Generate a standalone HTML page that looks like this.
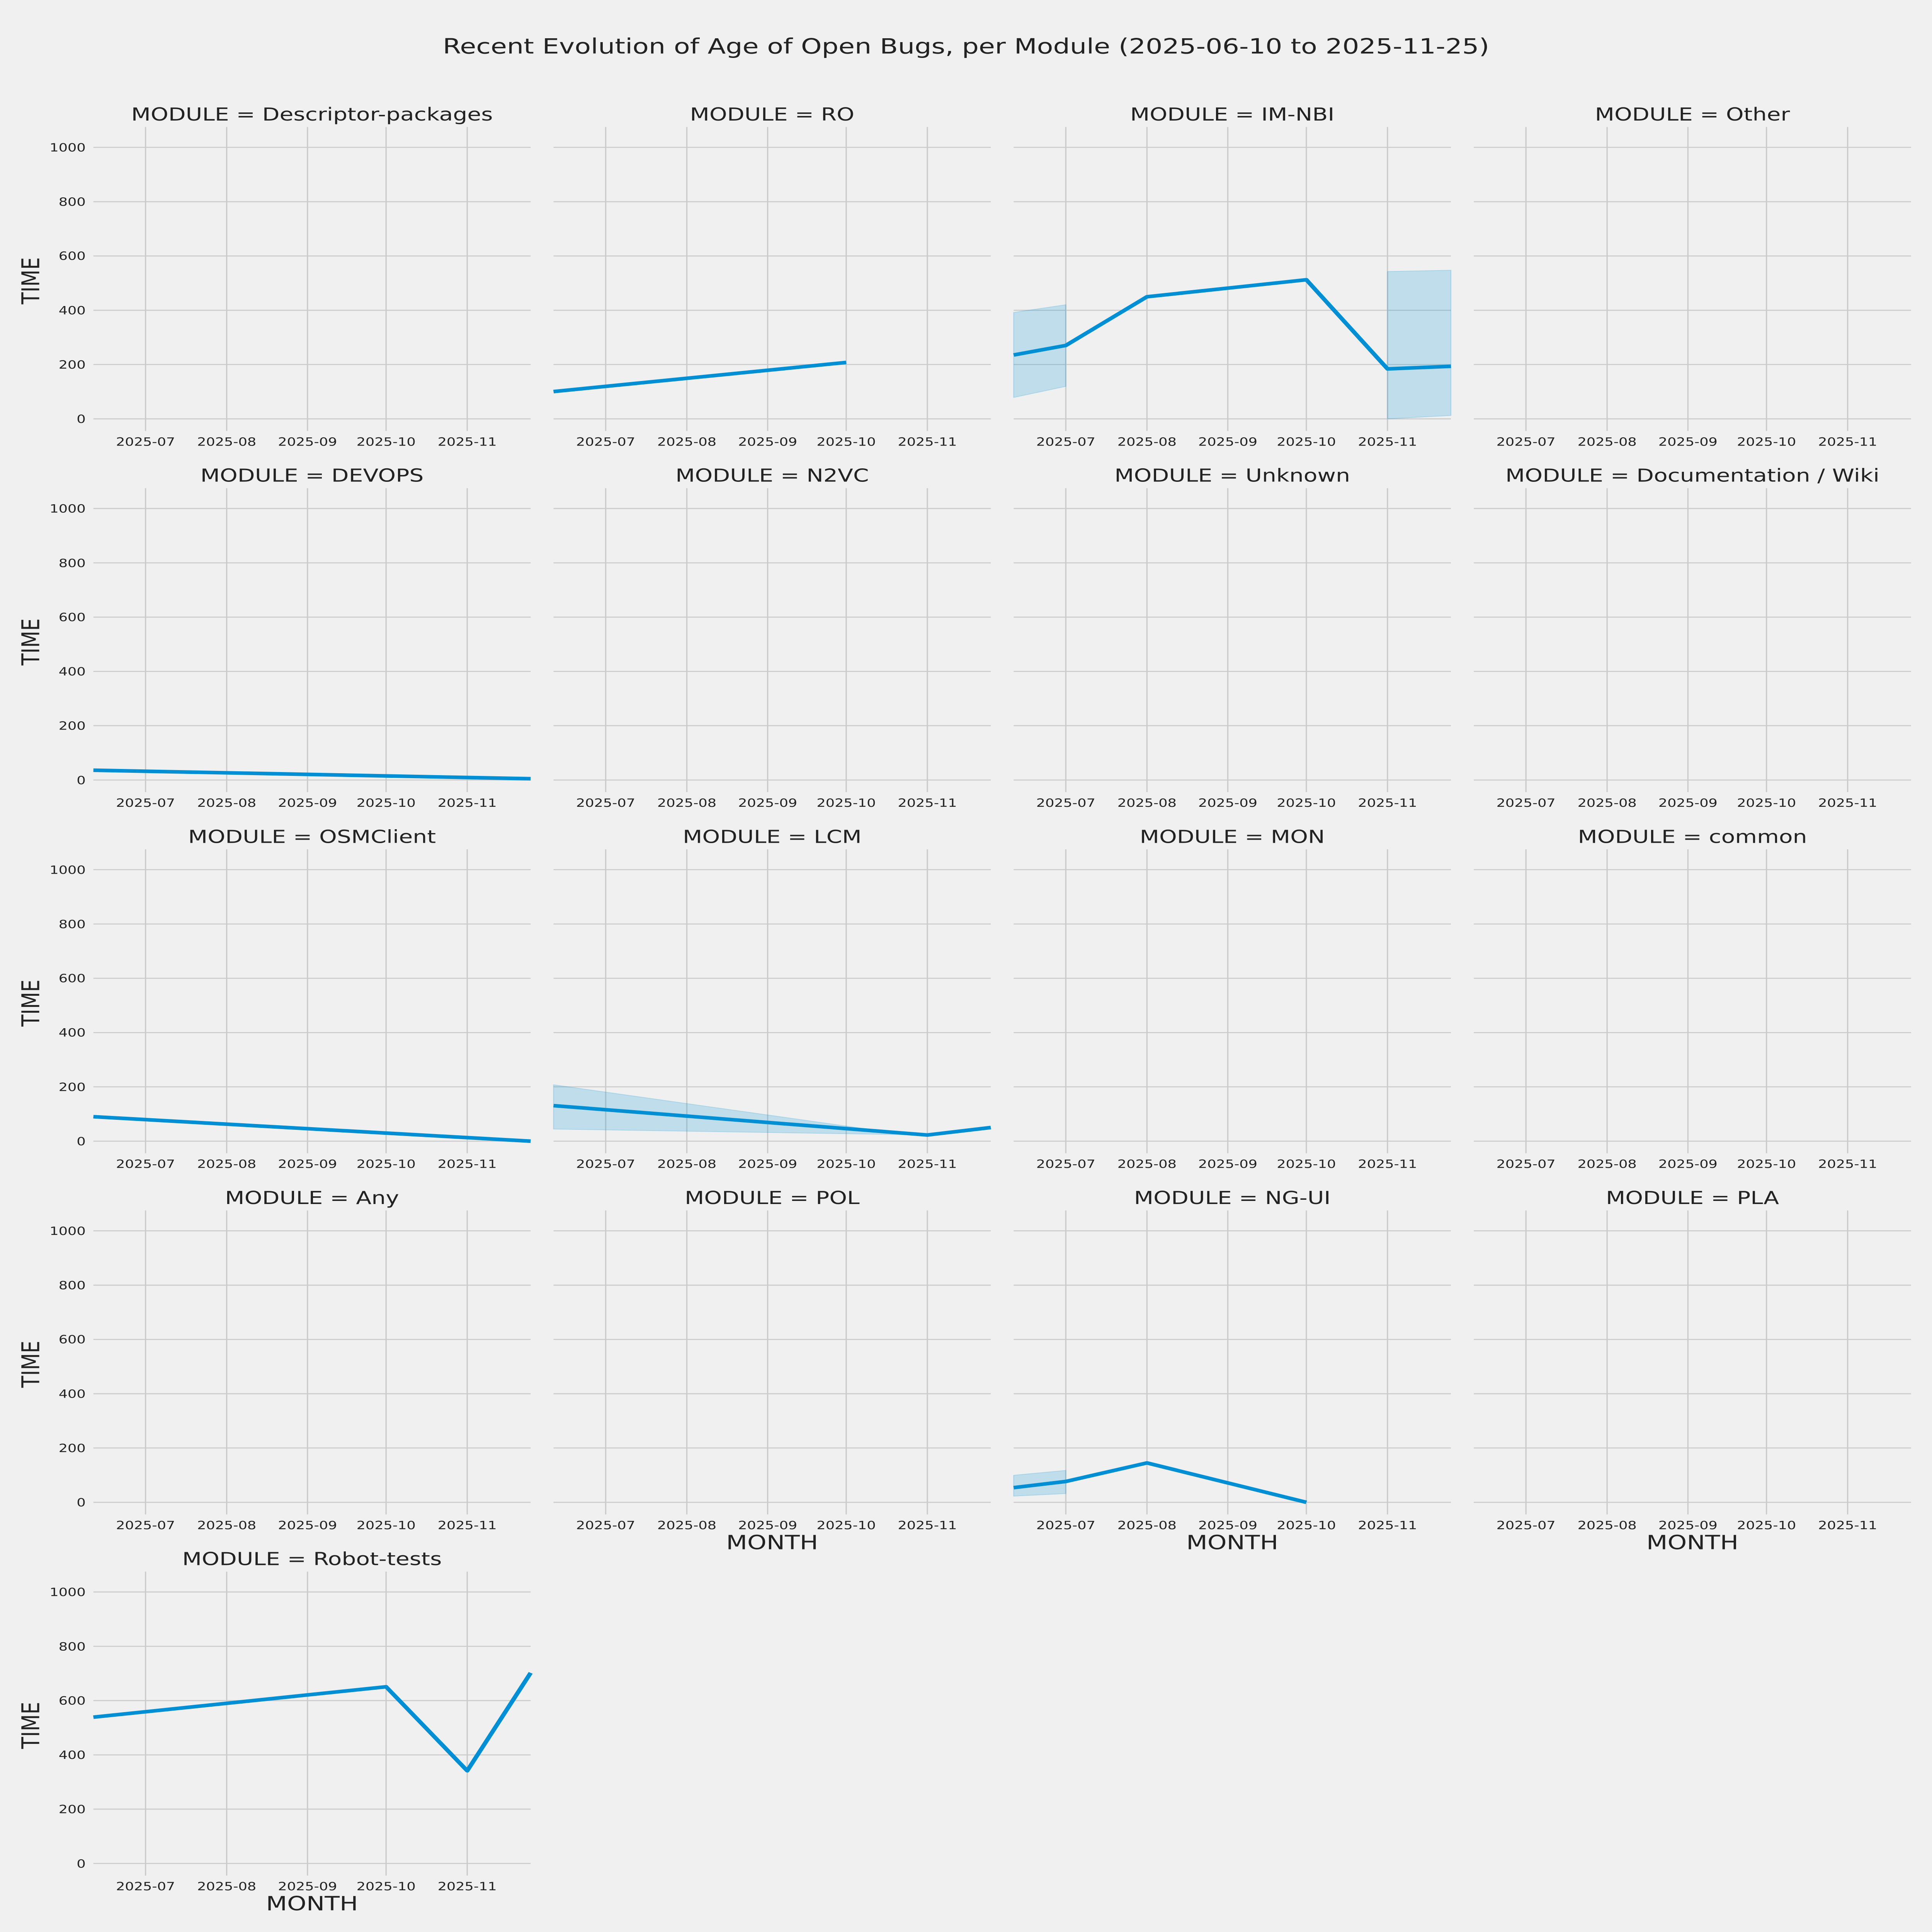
<!DOCTYPE html>
<html><head><meta charset="utf-8"><style>
html,body{margin:0;padding:0;background:#f0f0f0;width:100%;height:100%;overflow:hidden;}
svg{display:block;width:100vw;height:100vh;}
text{font-family:"DejaVu Sans","Liberation Sans",sans-serif;fill:#222;}
.t{font-size:70px;text-anchor:middle;}
.xt{font-size:44px;text-anchor:middle;}
.yt{font-size:44px;text-anchor:end;}
.al{font-size:76px;text-anchor:middle;}
.ln{fill:none;stroke:#008fd5;stroke-width:14;stroke-linejoin:round;}
.bd{fill:#008fd5;fill-opacity:0.2;stroke:#008fd5;stroke-opacity:0.2;stroke-width:3;}
</style></head><body>
<svg viewBox="0 0 6000 7500" preserveAspectRatio="none" xmlns="http://www.w3.org/2000/svg">
<rect width="6000" height="7500" fill="#f0f0f0"/>
<defs>
<g id="grid" stroke="#cbcbcb" stroke-width="4">
<line x1="0" x2="1358" y1="1133" y2="1133"/>
<line x1="0" x2="1358" y1="922" y2="922"/>
<line x1="0" x2="1358" y1="711.5" y2="711.5"/>
<line x1="0" x2="1358" y1="500.7" y2="500.7"/>
<line x1="0" x2="1358" y1="290" y2="290"/>
<line x1="0" x2="1358" y1="79" y2="79"/>
<line x1="162" x2="162" y1="0" y2="1180"/>
<line x1="414" x2="414" y1="0" y2="1180"/>
<line x1="665" x2="665" y1="0" y2="1180"/>
<line x1="909" x2="909" y1="0" y2="1180"/>
<line x1="1161" x2="1161" y1="0" y2="1180"/>
</g>
</defs>
<text x="3000" y="208" style="font-size:82px;text-anchor:middle">Recent Evolution of Age of Open Bugs, per Module (2025-06-10 to 2025-11-25)</text>

<g transform="translate(290,493)"><use href="#grid"/><text class="t" x="679" y="-25">MODULE = Descriptor-packages</text>
<text class="xt" x="162" y="1237">2025-07</text><text class="xt" x="414" y="1237">2025-08</text><text class="xt" x="665" y="1237">2025-09</text><text class="xt" x="909" y="1237">2025-10</text><text class="xt" x="1161" y="1237">2025-11</text>
<text class="yt" x="-24" y="1149">0</text><text class="yt" x="-24" y="938">200</text><text class="yt" x="-24" y="727">400</text><text class="yt" x="-24" y="516">600</text><text class="yt" x="-24" y="306">800</text><text class="yt" x="-24" y="95">1000</text>
<text class="al" transform="translate(-168,597) rotate(-90)">TIME</text></g>

<g transform="translate(1719,493)"><use href="#grid"/><text class="t" x="679" y="-25">MODULE = RO</text>
<text class="xt" x="162" y="1237">2025-07</text><text class="xt" x="414" y="1237">2025-08</text><text class="xt" x="665" y="1237">2025-09</text><text class="xt" x="909" y="1237">2025-10</text><text class="xt" x="1161" y="1237">2025-11</text>
<polyline class="ln" points="0,1027 909,914"/></g>

<g transform="translate(3148,493)"><use href="#grid"/><text class="t" x="679" y="-25">MODULE = IM-NBI</text>
<text class="xt" x="162" y="1237">2025-07</text><text class="xt" x="414" y="1237">2025-08</text><text class="xt" x="665" y="1237">2025-09</text><text class="xt" x="909" y="1237">2025-10</text><text class="xt" x="1161" y="1237">2025-11</text>
<polygon class="bd" points="0,720 162,690 162,1007 0,1050"/>
<polygon class="bd" points="1161,561 1358,556 1358,1120 1161,1133"/>
<polyline class="ln" points="0,885 162,848 414,659 909,593 1161,939 1358,929"/></g>

<g transform="translate(4577,493)"><use href="#grid"/><text class="t" x="679" y="-25">MODULE = Other</text>
<text class="xt" x="162" y="1237">2025-07</text><text class="xt" x="414" y="1237">2025-08</text><text class="xt" x="665" y="1237">2025-09</text><text class="xt" x="909" y="1237">2025-10</text><text class="xt" x="1161" y="1237">2025-11</text></g>

<g transform="translate(290,1895)"><use href="#grid"/><text class="t" x="679" y="-25">MODULE = DEVOPS</text>
<text class="xt" x="162" y="1237">2025-07</text><text class="xt" x="414" y="1237">2025-08</text><text class="xt" x="665" y="1237">2025-09</text><text class="xt" x="909" y="1237">2025-10</text><text class="xt" x="1161" y="1237">2025-11</text>
<text class="yt" x="-24" y="1149">0</text><text class="yt" x="-24" y="938">200</text><text class="yt" x="-24" y="727">400</text><text class="yt" x="-24" y="516">600</text><text class="yt" x="-24" y="306">800</text><text class="yt" x="-24" y="95">1000</text>
<text class="al" transform="translate(-168,597) rotate(-90)">TIME</text>
<polyline class="ln" points="0,1095 1358,1128"/></g>

<g transform="translate(1719,1895)"><use href="#grid"/><text class="t" x="679" y="-25">MODULE = N2VC</text>
<text class="xt" x="162" y="1237">2025-07</text><text class="xt" x="414" y="1237">2025-08</text><text class="xt" x="665" y="1237">2025-09</text><text class="xt" x="909" y="1237">2025-10</text><text class="xt" x="1161" y="1237">2025-11</text></g>

<g transform="translate(3148,1895)"><use href="#grid"/><text class="t" x="679" y="-25">MODULE = Unknown</text>
<text class="xt" x="162" y="1237">2025-07</text><text class="xt" x="414" y="1237">2025-08</text><text class="xt" x="665" y="1237">2025-09</text><text class="xt" x="909" y="1237">2025-10</text><text class="xt" x="1161" y="1237">2025-11</text></g>

<g transform="translate(4577,1895)"><use href="#grid"/><text class="t" x="679" y="-25">MODULE = Documentation / Wiki</text>
<text class="xt" x="162" y="1237">2025-07</text><text class="xt" x="414" y="1237">2025-08</text><text class="xt" x="665" y="1237">2025-09</text><text class="xt" x="909" y="1237">2025-10</text><text class="xt" x="1161" y="1237">2025-11</text></g>

<g transform="translate(290,3297)"><use href="#grid"/><text class="t" x="679" y="-25">MODULE = OSMClient</text>
<text class="xt" x="162" y="1237">2025-07</text><text class="xt" x="414" y="1237">2025-08</text><text class="xt" x="665" y="1237">2025-09</text><text class="xt" x="909" y="1237">2025-10</text><text class="xt" x="1161" y="1237">2025-11</text>
<text class="yt" x="-24" y="1149">0</text><text class="yt" x="-24" y="938">200</text><text class="yt" x="-24" y="727">400</text><text class="yt" x="-24" y="516">600</text><text class="yt" x="-24" y="306">800</text><text class="yt" x="-24" y="95">1000</text>
<text class="al" transform="translate(-168,597) rotate(-90)">TIME</text>
<polyline class="ln" points="0,1038 1358,1133"/></g>

<g transform="translate(1719,3297)"><use href="#grid"/><text class="t" x="679" y="-25">MODULE = LCM</text>
<text class="xt" x="162" y="1237">2025-07</text><text class="xt" x="414" y="1237">2025-08</text><text class="xt" x="665" y="1237">2025-09</text><text class="xt" x="909" y="1237">2025-10</text><text class="xt" x="1161" y="1237">2025-11</text>
<polygon class="bd" points="0,914 1100,1108 0,1086"/>
<polyline class="ln" points="0,995 1161,1109 1358,1080"/></g>

<g transform="translate(3148,3297)"><use href="#grid"/><text class="t" x="679" y="-25">MODULE = MON</text>
<text class="xt" x="162" y="1237">2025-07</text><text class="xt" x="414" y="1237">2025-08</text><text class="xt" x="665" y="1237">2025-09</text><text class="xt" x="909" y="1237">2025-10</text><text class="xt" x="1161" y="1237">2025-11</text></g>

<g transform="translate(4577,3297)"><use href="#grid"/><text class="t" x="679" y="-25">MODULE = common</text>
<text class="xt" x="162" y="1237">2025-07</text><text class="xt" x="414" y="1237">2025-08</text><text class="xt" x="665" y="1237">2025-09</text><text class="xt" x="909" y="1237">2025-10</text><text class="xt" x="1161" y="1237">2025-11</text></g>

<g transform="translate(290,4699)"><use href="#grid"/><text class="t" x="679" y="-25">MODULE = Any</text>
<text class="xt" x="162" y="1237">2025-07</text><text class="xt" x="414" y="1237">2025-08</text><text class="xt" x="665" y="1237">2025-09</text><text class="xt" x="909" y="1237">2025-10</text><text class="xt" x="1161" y="1237">2025-11</text>
<text class="yt" x="-24" y="1149">0</text><text class="yt" x="-24" y="938">200</text><text class="yt" x="-24" y="727">400</text><text class="yt" x="-24" y="516">600</text><text class="yt" x="-24" y="306">800</text><text class="yt" x="-24" y="95">1000</text>
<text class="al" transform="translate(-168,597) rotate(-90)">TIME</text></g>

<g transform="translate(1719,4699)"><use href="#grid"/><text class="t" x="679" y="-25">MODULE = POL</text>
<text class="xt" x="162" y="1237">2025-07</text><text class="xt" x="414" y="1237">2025-08</text><text class="xt" x="665" y="1237">2025-09</text><text class="xt" x="909" y="1237">2025-10</text><text class="xt" x="1161" y="1237">2025-11</text>
<text class="al" x="679" y="1315">MONTH</text></g>

<g transform="translate(3148,4699)"><use href="#grid"/><text class="t" x="679" y="-25">MODULE = NG-UI</text>
<text class="xt" x="162" y="1237">2025-07</text><text class="xt" x="414" y="1237">2025-08</text><text class="xt" x="665" y="1237">2025-09</text><text class="xt" x="909" y="1237">2025-10</text><text class="xt" x="1161" y="1237">2025-11</text>
<text class="al" x="679" y="1315">MONTH</text>
<polygon class="bd" points="0,1028 162,1009 162,1099 0,1109"/>
<polyline class="ln" points="0,1076 162,1052 414,980 909,1133"/></g>

<g transform="translate(4577,4699)"><use href="#grid"/><text class="t" x="679" y="-25">MODULE = PLA</text>
<text class="xt" x="162" y="1237">2025-07</text><text class="xt" x="414" y="1237">2025-08</text><text class="xt" x="665" y="1237">2025-09</text><text class="xt" x="909" y="1237">2025-10</text><text class="xt" x="1161" y="1237">2025-11</text>
<text class="al" x="679" y="1315">MONTH</text></g>

<g transform="translate(290,6101)"><use href="#grid"/><text class="t" x="679" y="-25">MODULE = Robot-tests</text>
<text class="xt" x="162" y="1237">2025-07</text><text class="xt" x="414" y="1237">2025-08</text><text class="xt" x="665" y="1237">2025-09</text><text class="xt" x="909" y="1237">2025-10</text><text class="xt" x="1161" y="1237">2025-11</text>
<text class="yt" x="-24" y="1149">0</text><text class="yt" x="-24" y="938">200</text><text class="yt" x="-24" y="727">400</text><text class="yt" x="-24" y="516">600</text><text class="yt" x="-24" y="306">800</text><text class="yt" x="-24" y="95">1000</text>
<text class="al" transform="translate(-168,597) rotate(-90)">TIME</text>
<text class="al" x="679" y="1315">MONTH</text>
<polyline class="ln" points="0,565 909,447 1161,773 1358,393"/></g>
</svg>
</body></html>
